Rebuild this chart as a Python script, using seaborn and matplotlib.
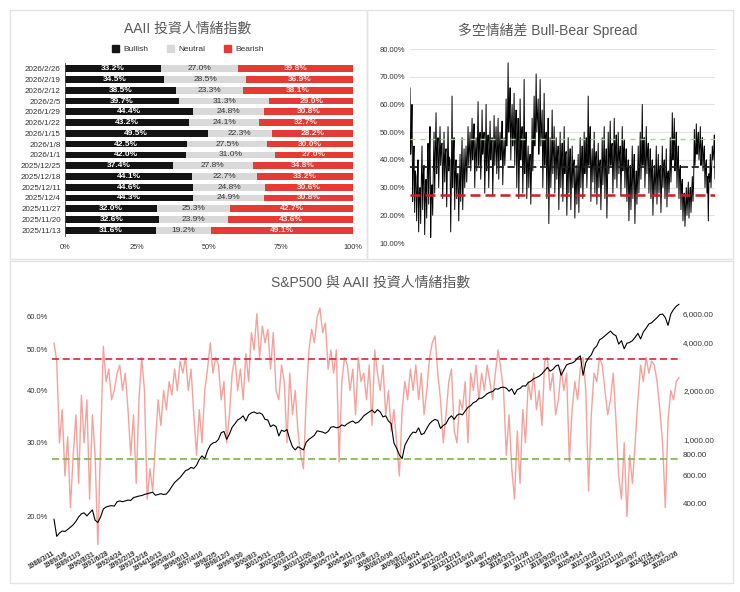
import numpy as np
import pandas as pd
import seaborn as sns
import matplotlib.pyplot as plt
from matplotlib.patches import Rectangle, Patch
from matplotlib.ticker import NullLocator
from matplotlib.transforms import ScaledTranslation

sns.set_style("white")
plt.rcParams['font.family'] = ['Liberation Sans', 'Noto Sans CJK TC', 'DejaVu Sans']

# ---- latest 16 weeks of the AAII survey (top left) ----
week_labels = ["2026/2/26", "2026/2/19", "2026/2/12", "2026/2/5", "2026/1/29", "2026/1/22",
               "2026/1/15", "2026/1/8", "2026/1/1", "2025/12/25", "2025/12/18", "2025/12/11",
               "2025/12/4", "2025/11/27", "2025/11/20", "2025/11/13"]
bullish = [33.2, 34.5, 38.5, 39.7, 44.4, 43.2, 49.5, 42.5, 42.0, 37.4, 44.1, 44.6, 44.3, 32.0, 32.6, 31.6]
neutral = [27.0, 28.5, 23.3, 31.3, 24.8, 24.1, 22.3, 27.5, 31.0, 27.8, 22.7, 24.8, 24.9, 25.3, 23.9, 19.2]
bearish = [39.8, 36.9, 38.1, 29.0, 30.8, 32.7, 28.2, 30.0, 27.0, 34.8, 33.2, 30.6, 30.8, 42.7, 43.6, 49.1]

# ---- weekly bullish reading 1988-2026 (top right), 12 readings per year ----
bull_weekly = [
    66, 42, 48, 60, 25, 38, 45, 21, 36, 34, 18, 30,
    40, 14, 28, 30, 17, 33, 45, 22, 35, 38, 13, 27,
    33, 19, 36, 46, 24, 40, 52, 12, 28, 31, 20, 37,
    50, 28, 42, 57, 35, 44, 48, 30, 41, 52, 38, 45,
    46, 26, 38, 50, 32, 42, 44, 23, 37, 52, 36, 41,
    40, 14, 33, 63, 30, 41, 48, 22, 36, 40, 26, 35,
    35, 18, 31, 42, 25, 37, 48, 22, 34, 44, 30, 38,
    45, 32, 41, 52, 38, 44, 50, 36, 43, 55, 40, 46,
    53, 30, 42, 48, 36, 45, 61, 38, 46, 50, 33, 41,
    58, 42, 47, 50, 28, 40, 60, 36, 44, 49, 30, 42,
    54, 40, 46, 48, 27, 39, 56, 38, 45, 52, 35, 43,
    55, 33, 45, 50, 40, 44, 54, 31, 42, 48, 38, 44,
    62, 45, 52, 75, 50, 57, 66, 40, 52, 60, 45, 50,
    64, 38, 50, 58, 30, 44, 55, 26, 40, 62, 40, 48,
    52, 28, 40, 69, 35, 45, 50, 26, 38, 45, 30, 39,
    42, 24, 36, 55, 36, 46, 63, 45, 52, 71, 50, 56,
    62, 42, 50, 69, 45, 52, 58, 30, 44, 64, 38, 47,
    50, 26, 39, 55, 17, 35, 48, 30, 40, 58, 35, 43,
    52, 28, 40, 48, 33, 41, 45, 22, 36, 50, 30, 40,
    46, 25, 37, 52, 35, 42, 43, 20, 34, 48, 28, 38,
    44, 22, 34, 45, 30, 38, 40, 19, 31, 38, 24, 33,
    42, 21, 34, 48, 30, 39, 45, 26, 37, 50, 35, 41,
    48, 30, 40, 63, 38, 46, 52, 25, 38, 44, 32, 39,
    50, 28, 40, 43, 24, 35, 46, 30, 38, 40, 22, 33,
    48, 31, 40, 52, 26, 38, 44, 19, 33, 50, 35, 42,
    54, 38, 45, 46, 28, 39, 55, 33, 44, 49, 30, 41,
    50, 35, 42, 45, 27, 38, 52, 36, 43, 47, 30, 39,
    44, 25, 36, 40, 18, 31, 38, 22, 32, 45, 26, 36,
    42, 17, 31, 36, 24, 33, 45, 28, 38, 50, 33, 42,
    60, 38, 47, 48, 30, 40, 52, 35, 43, 46, 28, 38,
    44, 26, 36, 40, 20, 32, 38, 27, 34, 45, 24, 35,
    42, 28, 36, 38, 21, 31, 45, 30, 38, 40, 26, 34,
    44, 23, 35, 36, 28, 34, 48, 32, 40, 57, 40, 46,
    55, 36, 44, 50, 30, 40, 45, 26, 36, 38, 22, 31,
    33, 18, 27, 28, 16, 24, 30, 20, 26, 32, 19, 27,
    30, 21, 28, 34, 25, 32, 51, 38, 44, 53, 42, 47,
    50, 40, 45, 52, 38, 44, 48, 36, 42, 45, 30, 38,
    40, 28, 34, 18, 35, 32, 42, 30, 38, 45, 40, 43,
    49, 33,
]
bull_mean = 37.5
bull_low = 27.5
bull_high = 47.5

# ---- bottom chart: smoothed bullish % and S&P 500, 6 readings per year ----
bull_smooth = [
    52, 47, 30, 36, 25, 31,
    21, 28, 35, 24, 39, 30,
    38, 22, 35, 28, 17, 30,
    51, 42, 45, 38, 40, 44,
    46, 40, 44, 36, 28, 35,
    24, 38, 48, 40, 22, 26,
    23, 30, 38, 33, 40, 36,
    42, 39, 45, 40, 47, 44,
    48, 40, 45, 35, 28, 36,
    30, 40, 45, 52, 44, 48,
    46, 38, 42, 30, 35, 44,
    48, 40, 45, 38, 49, 42,
    55, 50, 61, 48, 57, 52,
    56, 45, 55, 40, 38, 46,
    42, 30, 44, 35, 40, 32,
    28, 26, 38, 50, 56, 52,
    60, 63, 55, 58, 45, 50,
    44, 50, 27, 42, 48, 46,
    40, 45, 35, 48, 42, 44,
    38, 46, 33, 50, 44, 40,
    46, 35, 40, 32, 36, 30,
    25, 36, 42, 38, 45, 40,
    46, 38, 44, 35, 40, 48,
    52, 54, 44, 38, 30, 35,
    42, 45, 32, 30, 38, 36,
    42, 30, 44, 40, 46, 38,
    44, 40, 46, 42, 38, 44,
    50, 45, 40, 28, 35, 26,
    22, 32, 24, 36, 30, 42,
    38, 44, 36, 40, 33, 47,
    48, 40, 44, 35, 38, 45,
    40, 44, 27, 36, 42, 38,
    45, 48, 40, 23, 35, 44,
    42, 48, 46, 40, 35, 38,
    44, 34, 25, 22, 30, 20,
    28, 24, 30, 38, 46, 42,
    48, 44, 47, 46, 42, 36,
    30, 21, 34, 40, 38, 42,
    43,
]
sp500 = [
    320, 250, 262, 270, 268, 276,
    285, 295, 310, 330, 345, 350,
    335, 350, 365, 315, 305, 330,
    370, 380, 385, 388, 385, 410,
    415, 410, 415, 420, 418, 435,
    440, 445, 448, 455, 460, 465,
    470, 450, 455, 460, 455, 458,
    480, 510, 540, 560, 580, 610,
    640, 650, 670, 660, 690, 750,
    790, 760, 850, 920, 950, 960,
    1000, 1100, 1120, 1000, 1080, 1190,
    1250, 1320, 1350, 1400, 1300, 1420,
    1460, 1480, 1450, 1460, 1430, 1330,
    1320, 1200, 1230, 1200, 1050, 1140,
    1120, 1150, 1000, 900, 860, 900,
    880, 860, 960, 1000, 1030, 1060,
    1130, 1120, 1110, 1090, 1120, 1190,
    1200, 1180, 1190, 1230, 1210, 1250,
    1280, 1300, 1260, 1280, 1330, 1400,
    1440, 1480, 1520, 1460, 1530, 1480,
    1380, 1400, 1300, 1250, 950, 880,
    800, 760, 920, 990, 1060, 1110,
    1100, 1180, 1070, 1090, 1170, 1250,
    1300, 1330, 1310, 1170, 1220, 1250,
    1350, 1400, 1330, 1410, 1440, 1420,
    1500, 1580, 1620, 1690, 1720, 1800,
    1800, 1850, 1920, 1960, 1980, 2060,
    2050, 2100, 2110, 2080, 1990, 2060,
    1900, 2040, 2070, 2150, 2140, 2250,
    2300, 2380, 2420, 2470, 2550, 2670,
    2800, 2650, 2720, 2850, 2900, 2500,
    2700, 2900, 2950, 2980, 3050, 3200,
    3300, 2500, 3000, 3200, 3350, 3650,
    3800, 4150, 4250, 4400, 4550, 4700,
    4500, 4400, 3900, 4100, 3650, 3950,
    4000, 4100, 4300, 4550, 4200, 4650,
    4900, 5200, 5300, 5500, 5700, 5950,
    6000, 5700, 5100, 6000, 6400, 6700,
    6900,
]
date_ticks = ["1988/3/11", "1989/1/6", "1989/11/3", "1990/8/31", "1991/6/28", "1992/4/24",
              "1993/2/19", "1993/12/16", "1994/10/13", "1995/8/10", "1996/6/13", "1997/4/10",
              "1998/2/5", "1998/12/3", "1999/9/30", "2000/8/3", "2001/5/31", "2002/3/28",
              "2003/1/23", "2003/11/20", "2004/9/16", "2005/7/14", "2006/5/11", "2007/3/8",
              "2008/1/3", "2008/10/30", "2009/8/27", "2010/6/24", "2011/4/21", "2012/2/16",
              "2012/12/13", "2013/10/10", "2014/8/7", "2015/6/4", "2016/3/31", "2017/1/26",
              "2017/11/23", "2018/9/20", "2019/7/18", "2020/5/14", "2021/3/18", "2022/1/13",
              "2022/11/10", "2023/9/7", "2024/7/4", "2025/5/1", "2026/2/26"]
pct_ticks = [20, 30, 40, 50, 60]
sp_ticks = [400, 600, 800, 1000, 2000, 4000, 6000]

C_BULL = "#141414"
C_NEU = "#d9d9d9"
C_BEAR = "#e53b35"
C_TITLE = "#595959"
C_TXT = "#333333"

W, H = 740, 592
fig = plt.figure(figsize=(W / 100, H / 100), dpi=100)


def box(x0, y0, x1, y1):
    return [x0 / W, 1 - y1 / H, (x1 - x0) / W, (y1 - y0) / H]


# panel frames
for (x0, y0, x1, y1) in [(10, 10, 367, 259), (367, 10, 733, 259), (10, 261, 733, 583)]:
    fig.add_artist(Rectangle((x0 / W, 1 - y1 / H), (x1 - x0) / W, (y1 - y0) / H,
                             transform=fig.transFigure, fill=False, ec="#e3e3e3", lw=1))

# ================= top left: stacked sentiment bars =================
df = pd.DataFrame({"week": week_labels, "Bullish": bullish, "Neutral": neutral, "Bearish": bearish})
df["bull_neu"] = df["Bullish"] + df["Neutral"]
df["total"] = df["bull_neu"] + df["Bearish"]

ax1 = fig.add_axes(box(65, 63.3, 353, 235.7))
for col, c in [("total", C_BEAR), ("bull_neu", C_NEU), ("Bullish", C_BULL)]:
    sns.barplot(data=df, x=col, y="week", color=c, saturation=1, width=0.62,
                errorbar=None, linewidth=0, ax=ax1)
for i, r in df.iterrows():
    ax1.text(r["Bullish"] / 2, i, f"{r['Bullish']:.1f}%", ha="center", va="center",
             color="white", fontsize=6, fontweight="bold")
    ax1.text(r["Bullish"] + r["Neutral"] / 2, i, f"{r['Neutral']:.1f}%", ha="center",
             va="center", color=C_TXT, fontsize=6)
    ax1.text(r["bull_neu"] + r["Bearish"] / 2, i, f"{r['Bearish']:.1f}%", ha="center",
             va="center", color="#fbe3e2", fontsize=6, fontweight="bold")
ax1.set_xlim(0, 100)
ax1.set_xticks([0, 25, 50, 75, 100])
ax1.set_xticklabels(["0%", "25%", "50%", "75%", "100%"])
ax1.set_xlabel("")
ax1.set_ylabel("")
ax1.tick_params(axis="both", length=0, labelsize=5.8, colors=C_TXT)
ax1.tick_params(axis="x", pad=6, labelsize=5.3)
ax1.tick_params(axis="y", pad=3)
sns.despine(ax=ax1, top=True, right=True, bottom=True)
ax1.spines["left"].set_color("#444444")
ax1.spines["left"].set_linewidth(0.6)

fig.text(188 / W, 1 - 29 / H, "AAII 投資人情緒指數", ha="center", va="center",
         fontsize=10, color=C_TITLE)
handles = [Patch(color=C_BULL), Patch(color=C_NEU), Patch(color=C_BEAR)]
fig.legend(handles, ["Bullish", "Neutral", "Bearish"], loc="center",
           bbox_to_anchor=(188 / W, 1 - 49 / H), ncol=3, frameon=False, fontsize=6,
           handlelength=0.9, handleheight=0.9, handletextpad=0.5, columnspacing=2.2,
           labelcolor=C_TXT)

# ================= top right: weekly bullish readings =================
ax2 = fig.add_axes(box(410, 49, 715, 243))
spread_dates = pd.date_range("1988-03-11", "2026-02-26", periods=len(bull_weekly))
sns.lineplot(x=spread_dates, y=bull_weekly, color="black", lw=0.7, ax=ax2)
ax2.axhline(bull_high, color="#a9cf8f", lw=1.0, ls=(0, (3.6, 3.6)))
ax2.axhline(bull_mean, color="#222222", lw=1.3, ls=(0, (4, 2)))
ax2.axhline(bull_low, color="#cc1f1f", lw=1.8, ls=(0, (4, 2)))
ax2.set_xlim(spread_dates[0], spread_dates[-1])
ax2.set_ylim(10, 80)
ax2.set_yticks(range(10, 81, 10))
ax2.set_yticklabels([f"{v:.2f}%" for v in range(10, 81, 10)])
ax2.set_xticks([])
ax2.set_xlabel("")
ax2.set_ylabel("")
ax2.grid(axis="y", color="#e2e2e2", lw=0.8)
ax2.set_axisbelow(True)
ax2.tick_params(axis="y", length=0, labelsize=5.5, colors=C_TXT, pad=3.5)
sns.despine(ax=ax2, left=True, bottom=True)
fig.text(548 / W, 1 - 30 / H, "多空情緒差 Bull-Bear Spread", ha="center", va="center",
         fontsize=10, color=C_TITLE)

# ================= bottom: S&P500 vs sentiment =================
ax3 = fig.add_axes(box(52, 300, 681, 545))
ax4 = ax3.twinx()
long_dates = pd.date_range("1988-03-11", "2026-02-26", periods=len(bull_smooth))
sns.lineplot(x=long_dates, y=bull_smooth, color="#f2a39d", lw=1.0, ax=ax3)
ax3.axhline(bull_high, color="#d42a2a", lw=1.2, ls=(0, (4.2, 2.2)))
ax3.axhline(bull_low, color="#7fb24a", lw=1.2, ls=(0, (4.2, 2.2)))
sns.lineplot(x=long_dates, y=sp500, color="black", lw=0.8, ax=ax4)

ax3.set_yscale("log")
ax3.set_ylim(17.1, 65.8)
ax3.yaxis.set_minor_locator(NullLocator())
ax3.set_yticks(pct_ticks)
ax3.set_yticklabels([f"{v:.1f}%" for v in pct_ticks])
ax4.set_yscale("log")
ax4.set_ylim(221, 7330)
ax4.yaxis.set_minor_locator(NullLocator())
ax4.set_yticks(sp_ticks)
ax4.set_yticklabels([f"{v:,.2f}" for v in sp_ticks])

pad = pd.Timedelta(days=44)
ax3.set_xlim(long_dates[0] - pad, long_dates[-1] + pad)
tick_pos = pd.to_datetime(date_ticks, format="%Y/%m/%d")
ax3.set_xticks(tick_pos)
ax3.set_xticklabels(date_ticks, rotation=30, ha="right", va="center", rotation_mode="anchor",
                    fontsize=4.8, fontweight="bold", color=C_TXT)
shift = ScaledTranslation(5 / 100, 0, fig.dpi_scale_trans)
for lab in ax3.get_xticklabels():
    lab.set_transform(lab.get_transform() + shift)
for a in (ax3, ax4):
    a.set_xlabel("")
    a.set_ylabel("")
    a.tick_params(length=0)
    for s in a.spines.values():
        s.set_visible(False)
ax3.tick_params(axis="y", labelsize=5.5, colors=C_TXT, pad=3)
ax3.tick_params(axis="x", pad=6)
ax4.tick_params(axis="y", labelsize=5.8, colors=C_TXT, pad=1.5)
fig.text(371 / W, 1 - 283 / H, "S&P500 與 AAII 投資人情緒指數", ha="center", va="center",
         fontsize=10, color=C_TITLE)

fig.savefig("out.png", dpi=100)
